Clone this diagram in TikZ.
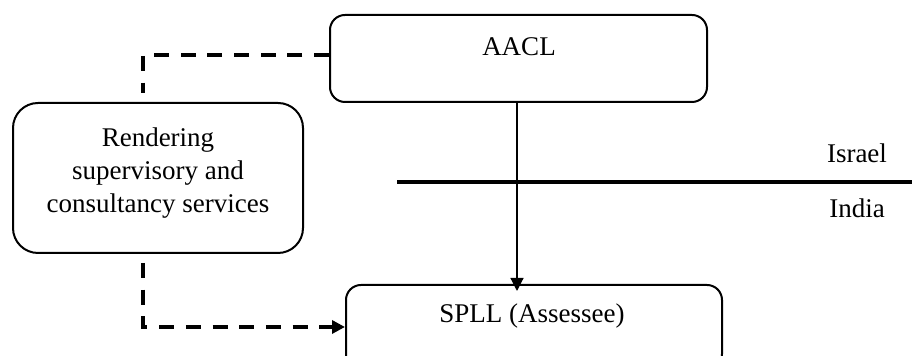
\documentclass[tikz,border=0pt]{standalone}
\usepackage{fontspec}
\setmainfont{Liberation Serif}
\usetikzlibrary{arrows.meta}
\tikzset{
  party/.style={draw, line width=1pt, rounded corners=7.5pt, inner sep=0pt},
  service/.style={draw, line width=1pt, rounded corners=12.5pt, align=center, inner sep=0pt},
  caption/.style={anchor=base, inner sep=0pt},
  dashlink/.style={line width=2pt, dash pattern=on 7.5pt off 5.85pt},
  tip/.style={-{Triangle[length=6.5pt,width=6.5pt]}},
  border/.style={line width=2pt},
}
\begin{document}
\begin{tikzpicture}[x=0.5pt, y=-0.5pt, font=\fontsize{13.5}{16.5}\selectfont]
\useasboundingbox (0,0) rectangle (912,356);

% entities
\node[party, minimum width=188.5pt, minimum height=43.5pt] (aacl) at (518.5,58.5) {};
\node[caption] (aacltext) at (519,56) {AACL};
\node[party, minimum width=188pt, minimum height=42pt] (spll) at (534,327) {};
\node[caption] (splltext) at (532,323) {SPLL (Assessee)};
\node[service, minimum width=145pt, minimum height=75pt] (svc) at (158,178) {};
\node[align=center, inner sep=0pt] (svctext) at (158,173)
  {Rendering\\supervisory and\\consultancy services};

% country border
\coordinate (borderW) at (397,182);
\coordinate (borderE) at (912,182);
\draw[border] (borderW) -- (borderE);
\node[caption] (israel) at (857,163) {Israel};
\node[caption] (india) at (857,218) {India};

% AACL to SPLL
\coordinate (downtop) at ([xshift=-0.75pt]aacl.south);
\coordinate (downend) at ([xshift=-0.75pt, yshift=-3.5pt]aacl.south |- spll.north);
\draw[line width=0.6pt, tip] (downtop) -- (downend);

% services links
\coordinate (topcorner) at (143,55);
\coordinate (topend) at (143,93);
\draw[dashlink] ([yshift=1.75pt]aacl.west) -- (topcorner) -- (topend);
\coordinate (botstart) at (143,263);
\coordinate (botcorner) at (143,327);
\draw[dashlink, tip] (botstart) -- (botcorner) -- (spll.west);
\end{tikzpicture}
\end{document}
